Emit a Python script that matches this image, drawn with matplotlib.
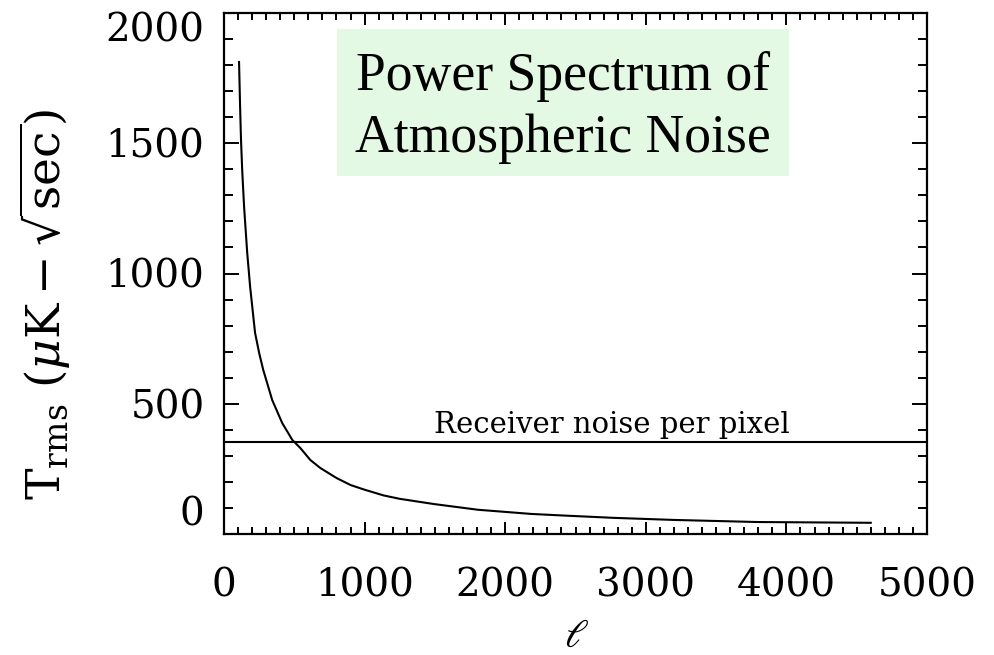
import matplotlib
matplotlib.use("Agg")
import matplotlib.pyplot as plt
from matplotlib.patches import Rectangle
from matplotlib.ticker import MultipleLocator

# Atmospheric noise curve
ell = [107, 114, 121, 130, 143, 165, 186, 221, 250, 279, 343, 414, 486, 543, 614,
       686, 800, 900, 1000, 1136, 1250, 1493, 1807, 2186, 2450, 2771, 3200, 3793, 4600]
t_rms = [1812, 1650, 1512, 1390, 1255, 1080, 948, 772, 695, 630, 514, 426, 361, 330,
         284, 253, 215, 188, 170, 148, 135, 115, 93, 77, 70, 62, 54, 46, 43]

receiver_noise = 353
x_ticks = [0, 1000, 2000, 3000, 4000, 5000]
y_ticks = [0, 500, 1000, 1500, 2000]

plt.rcParams['mathtext.fontset'] = 'dejavuserif'

fig = plt.figure(figsize=(9.94, 6.55), dpi=100)
fig.patch.set_facecolor('white')
ax = fig.add_axes([224 / 994, 1 - 534 / 655, (927 - 224) / 994, (534 - 13) / 655])

ax.plot(ell, t_rms, color='black', lw=1.5)
ax.axhline(receiver_noise, color='black', lw=1.5)
ax.text(2760, 388, 'Receiver noise per pixel', ha='center', va='baseline',
        fontsize=21, family='DejaVu Serif')

ax.set_xlim(0, 5000)
ax.set_ylim(0, 2000)
ax.set_xticks(x_ticks)
ax.set_yticks(y_ticks)
ax.xaxis.set_minor_locator(MultipleLocator(100))
ax.yaxis.set_minor_locator(MultipleLocator(100))
ax.tick_params(which='both', direction='in', top=True, right=True, width=1.4,
               labelsize=28)
ax.tick_params(axis='y', which='major', length=10.5, pad=14)
ax.tick_params(axis='y', which='minor', length=6.5)
ax.tick_params(axis='x', which='major', length=8.5, pad=24)
ax.tick_params(axis='x', which='minor', length=5)
for lab in ax.get_xticklabels() + ax.get_yticklabels():
    lab.set_family('DejaVu Serif')
ylabs = ax.get_yticklabels()
ylabs[0].set_va('bottom')
ylabs[-1].set_va('top')
for spine in ax.spines.values():
    spine.set_linewidth(1.6)

ax.set_xlabel(r'$\ell$', fontsize=29)
ax.xaxis.label.set_va('center')
ax.xaxis.set_label_coords(0.502, (534 - 636) / 521)
ax.set_ylabel(r'$\mathrm{T}_{\mathrm{rms}}\ (\mu\mathrm{K}-\sqrt{\mathrm{sec}})$',
              fontsize=34)
ax.yaxis.label.set_va('center')
ax.yaxis.set_label_coords(-0.255, 0.44)

# Title box
fig.patches.append(Rectangle((337 / 994, 1 - 176 / 655), 452 / 994, 147 / 655,
                             transform=fig.transFigure, facecolor='#e4f9e4',
                             edgecolor='none', zorder=3))
fig.text(563 / 994, 1 - 90 / 655, 'Power Spectrum of', ha='center', va='baseline',
         fontsize=38.6, family='Liberation Serif', zorder=4)
fig.text(563 / 994, 1 - 152 / 655, 'Atmospheric Noise', ha='center', va='baseline',
         fontsize=38.6, family='Liberation Serif', zorder=4)

fig.savefig('out.png', dpi=100, facecolor='white')
